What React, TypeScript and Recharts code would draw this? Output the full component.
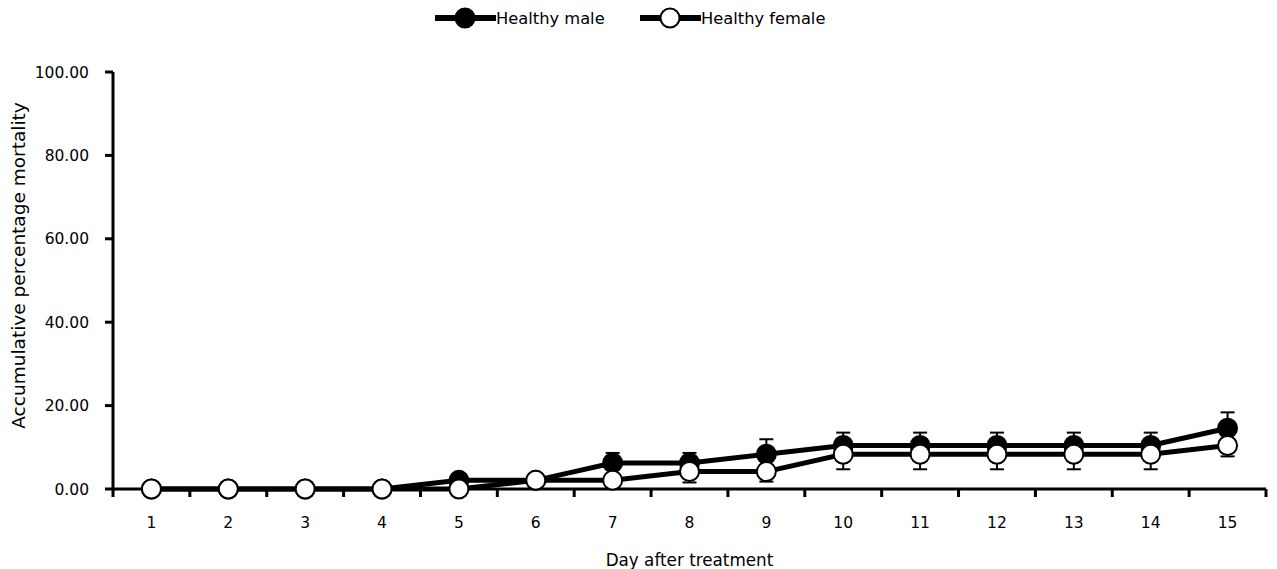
import React from 'react';
import { LineChart, Line, XAxis, YAxis, ErrorBar } from 'recharts';

// days after treatment
const days = [1, 2, 3, 4, 5, 6, 7, 8, 9, 10, 11, 12, 13, 14, 15];
// accumulative % mortality (mean) and SE per group
const maleMortality = [0, 0, 0, 0, 2.08, 2.08, 6.25, 6.25, 8.33, 10.42, 10.42, 10.42, 10.42, 10.42, 14.58];
const femaleMortality = [0, 0, 0, 0, 0, 2.08, 2.08, 4.17, 4.17, 8.33, 8.33, 8.33, 8.33, 8.33, 10.42];
const maleSE = [0, 0, 0, 0, 0, 0, 2.4, 2.4, 3.6, 3.1, 3.1, 3.1, 3.1, 3.1, 3.8];
const femaleSE = [0, 0, 0, 0, 0, 0, 0, 2.6, 2.4, 3.6, 3.6, 3.6, 3.6, 3.6, 2.6];
const yTicks = [0, 20, 40, 60, 80, 100];

const FONT = '"DejaVu Sans", Verdana, sans-serif';

// male bars point up, female bars point down
const data = days.map((d, i) => ({
  day: d,
  male: maleMortality[i],
  female: femaleMortality[i],
  maleErr: [0, maleSE[i]],
  femaleErr: [femaleSE[i], 0],
}));

const series = [
  { name: 'Healthy male', fill: '#000', left: 435 },
  { name: 'Healthy female', fill: '#fff', left: 640 },
];

function LegendRow() {
  return (
    <>
      {series.map(s => (
        <div key={s.name} style={{ position: 'absolute', left: s.left, top: 6, display: 'flex', alignItems: 'center', fontFamily: FONT, fontSize: 16.3, color: '#000' }}>
          <svg width={61} height={24} style={{ display: 'block' }}>
            <line x1={0} y1={12} x2={61} y2={12} stroke="#000" strokeWidth={6} />
            <circle cx={30} cy={12} r={9.5} fill={s.fill} stroke="#000" strokeWidth={2} />
          </svg>
          <span>{s.name}</span>
        </div>
      ))}
    </>
  );
}

// category labels at whole days, tick marks on the boundaries between days
function DayTick(props: any) {
  const { x, y, payload, index } = props;
  const half = 1153 / 15 / 2;
  return (
    <g>
      <line x1={x + half} y1={y - 8} x2={x + half} y2={y} stroke="#000" strokeWidth={3} />
      {index === 0 && <line x1={x - half} y1={y - 8} x2={x - half} y2={y} stroke="#000" strokeWidth={3} />}
      <text x={x} y={y + 31} textAnchor="middle" fontFamily={FONT} fontSize={15.5} fill="#000">
        {payload.value}
      </text>
    </g>
  );
}

export default function App() {
  return (
    <div style={{ position: 'absolute', left: 0, top: 0, width: 1277, height: 569 }}>
      <LineChart width={1277} height={569} data={data} margin={{ top: 72, right: 11, bottom: 0, left: 40 }}>
        <XAxis
          dataKey="day"
          type="number"
          domain={[0.5, 15.5]}
          ticks={days}
          interval={0}
          tickLine={false}
          axisLine={{ stroke: '#000', strokeWidth: 3 }}
          tick={<DayTick />}
          height={80}
          label={{ value: 'Day after treatment', position: 'insideBottom', offset: 3, style: { fontFamily: FONT, fontSize: 16.8, fill: '#000' } }}
        />
        <YAxis
          domain={[0, 100]}
          ticks={yTicks}
          width={73}
          tickFormatter={(v: number) => v.toFixed(2)}
          tick={{ fontFamily: FONT, fontSize: 15.5, fill: '#000' }}
          tickLine={{ stroke: '#000', strokeWidth: 3 }}
          tickSize={8}
          tickMargin={16}
          axisLine={{ stroke: '#000', strokeWidth: 3 }}
          label={{ value: 'Accumulative percentage mortality', angle: -90, position: 'insideLeft', offset: -22, dy: -15, style: { textAnchor: 'middle', fontFamily: FONT, fontSize: 18.5, fill: '#000' } }}
        />
        <Line
          dataKey="male"
          name="Healthy male"
          stroke="#000"
          strokeWidth={5}
          dot={{ r: 9.5, fill: '#000', stroke: '#000', strokeWidth: 2 }}
          isAnimationActive={false}
        >
          <ErrorBar dataKey="maleErr" direction="y" width={7} stroke="#000" strokeWidth={2} />
        </Line>
        <Line
          dataKey="female"
          name="Healthy female"
          stroke="#000"
          strokeWidth={5}
          dot={{ r: 9.5, fill: '#fff', stroke: '#000', strokeWidth: 2 }}
          isAnimationActive={false}
        >
          <ErrorBar dataKey="femaleErr" direction="y" width={7} stroke="#000" strokeWidth={2} />
        </Line>
      </LineChart>
      <LegendRow />
    </div>
  );
}
